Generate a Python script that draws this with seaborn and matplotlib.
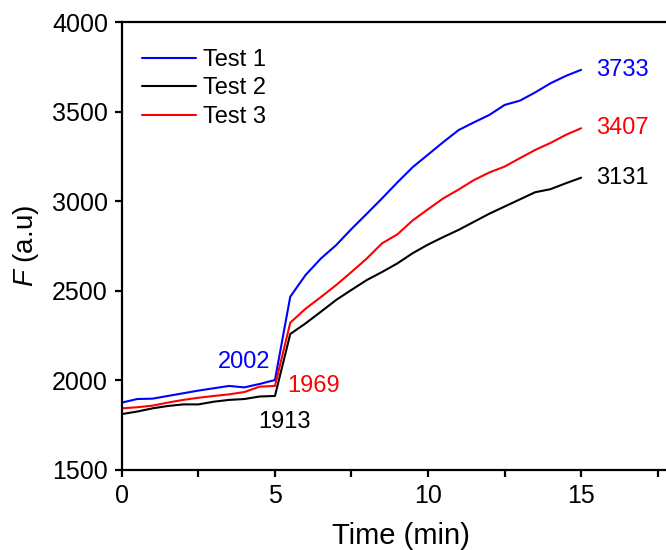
import numpy as np
import pandas as pd
import matplotlib
matplotlib.use("Agg")
import matplotlib.pyplot as plt
from matplotlib.ticker import MultipleLocator
import seaborn as sns

# Sampling times (min)
time_min = [0, 0.5, 1, 1.5, 2, 2.5, 3, 3.5, 4, 4.5, 5,
            5.5, 6, 6.5, 7, 7.5, 8, 8.5, 9, 9.5, 10,
            10.5, 11, 11.5, 12, 12.5, 13, 13.5, 14, 14.5, 15]

test1 = [1876, 1896, 1898, 1913, 1928, 1943, 1956, 1969, 1961, 1980, 2002,
         2467, 2588, 2680, 2755, 2845, 2930, 3016, 3105, 3190, 3260,
         3330, 3397, 3440, 3481, 3537, 3561, 3607, 3658, 3699, 3733]
test2 = [1812, 1826, 1844, 1857, 1866, 1866, 1881, 1891, 1896, 1910, 1913,
         2259, 2318, 2383, 2449, 2505, 2560, 2605, 2653, 2710, 2758,
         2800, 2840, 2885, 2930, 2970, 3010, 3050, 3067, 3100, 3131]
test3 = [1844, 1850, 1859, 1876, 1891, 1903, 1913, 1922, 1935, 1965, 1969,
         2322, 2400, 2465, 2532, 2605, 2680, 2765, 2815, 2893, 2955,
         3016, 3065, 3118, 3160, 3193, 3240, 3286, 3325, 3370, 3407]

series_names = ["Test 1", "Test 2", "Test 3"]
series_colors = ["#0000ff", "#000000", "#ff0000"]

df = pd.DataFrame({
    "Time": time_min * 3,
    "F": test1 + test2 + test3,
    "Test": sum([[n] * len(time_min) for n in series_names], []),
})

sns.set_theme(style="ticks")
plt.rcParams["font.family"] = ["Liberation Sans", "DejaVu Sans"]
plt.rcParams["mathtext.fontset"] = "custom"
plt.rcParams["mathtext.it"] = "Liberation Sans:italic"
plt.rcParams["mathtext.rm"] = "Liberation Sans"
plt.rcParams["text.color"] = "black"
plt.rcParams["axes.labelcolor"] = "black"

fig = plt.figure(figsize=(6.66, 5.5), dpi=100)
# the plotting area runs past the right edge of the canvas
ax = fig.add_axes([0.183, 0.1455, 0.838, 0.8145])

sns.lineplot(data=df, x="Time", y="F", hue="Test", hue_order=series_names,
             palette=dict(zip(series_names, series_colors)),
             linewidth=1.5, ax=ax)

ax.set_xlim(0, 18.23)
ax.set_ylim(1500, 4000)
ax.xaxis.set_major_locator(MultipleLocator(5))
ax.xaxis.set_minor_locator(MultipleLocator(2.5))
ax.yaxis.set_major_locator(MultipleLocator(500))

for side in ["left", "bottom", "top"]:
    ax.spines[side].set_linewidth(1.6)
    ax.spines[side].set_color("black")
ax.spines["right"].set_visible(False)
ax.spines["top"].set_visible(True)

ax.tick_params(axis="both", which="major", direction="out", length=5,
               width=1.6, labelsize=18, color="black", pad=5)
ax.tick_params(axis="x", which="minor", direction="out", length=5,
               width=1.6, color="black")
ax.tick_params(axis="both", labelcolor="black")

ax.set_xlabel("Time (min)", fontsize=21, color="black", labelpad=10)
ax.set_ylabel(r"$F$ (a.u)", fontsize=20, color="black", labelpad=8)

leg = ax.legend(loc="upper left", bbox_to_anchor=(0.0, 0.985), frameon=False,
                fontsize=17, handlelength=2.3, handletextpad=0.3,
                labelspacing=0.28, borderaxespad=0.45)
for line in leg.get_lines():
    line.set_linewidth(1.5)
for txt in leg.get_texts():
    txt.set_color("black")

# Step and end-point value labels
ax.text(4.85, test1[10] + 100, f"{test1[10]}", color=series_colors[0],
        fontsize=17, ha="right", va="center")
ax.text(5.4, test3[10], f"{test3[10]}", color=series_colors[2],
        fontsize=17, ha="left", va="center")
ax.text(5.3, test2[10] - 145, f"{test2[10]}", color=series_colors[1],
        fontsize=17, ha="center", va="center")
ax.text(15.5, test1[-1], f"{test1[-1]}", color=series_colors[0],
        fontsize=17, ha="left", va="center")
ax.text(15.5, test3[-1], f"{test3[-1]}", color=series_colors[2],
        fontsize=17, ha="left", va="center")
ax.text(15.5, test2[-1], f"{test2[-1]}", color=series_colors[1],
        fontsize=17, ha="left", va="center")

fig.savefig("out.png", dpi=100)
